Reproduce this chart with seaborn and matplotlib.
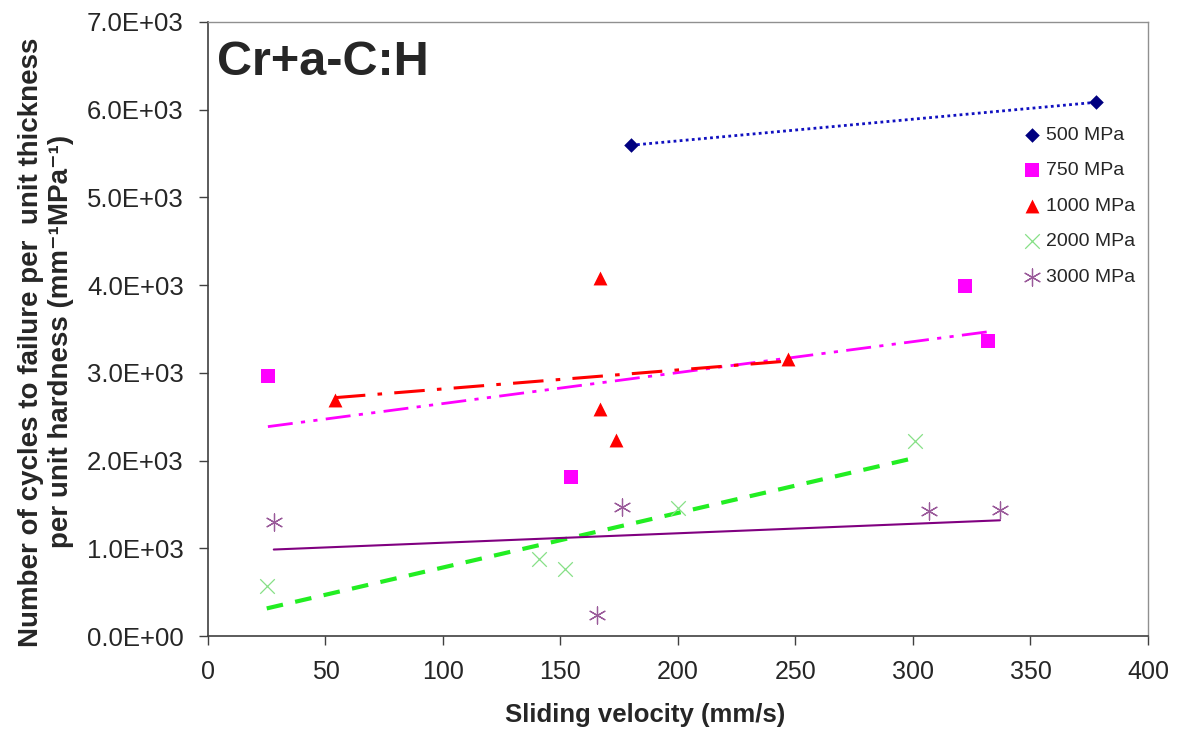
import matplotlib
matplotlib.use('Agg')
import matplotlib.pyplot as plt
import seaborn as sns
import numpy as np

# sliding velocity (mm/s) and cycles to failure per unit thickness per unit hardness
v_500 = [180, 378]
n_500 = [5595, 6085]
v_750 = [25.5, 154.5, 322, 332]
n_750 = [2965, 1813, 3990, 3364]
v_1000 = [54, 167, 167, 173.6, 247]
n_1000 = [2690, 4082, 2588, 2235, 3158]
v_2000 = [25, 141, 152, 200, 301]
n_2000 = [570, 878, 764, 1460, 2220]
v_3000 = [28, 165.5, 176, 307, 337]
n_3000 = [1300, 240, 1470, 1425, 1437]

labels = ['500 MPa', '750 MPa', '1000 MPa', '2000 MPa', '3000 MPa']
xticks = [0, 50, 100, 150, 200, 250, 300, 350, 400]
yticks = [0, 1000, 2000, 3000, 4000, 5000, 6000, 7000]

sns.set_style('white')
plt.rcParams['font.family'] = ['Liberation Sans', 'DejaVu Sans']

fig = plt.figure(figsize=(11.79, 7.33), dpi=100)
ax = fig.add_axes([0.1764, 0.1323, 0.7973, 0.8377])

# markers and trend line style for every series
series = [
    (v_500, n_500, 'D', '#000080', '#1010c0', 55, (0, (1, 1.2)), 2.0),
    (v_750, n_750, 's', '#ff00ff', '#ff00ff', 90, (0, (9, 3, 1.5, 3, 1.5, 3)), 2.0),
    (v_1000, n_1000, '^', '#ff0000', '#ff0000', 100, (0, (10, 4, 1.5, 4)), 2.2),
    (v_2000, n_2000, 'x', '#86e086', '#22ee22', 110, (0, (4, 3)), 3.0),
    (v_3000, n_3000, (6, 2, 0), '#9a5a9a', '#800080', 150, '-', 1.5),
]

for (vx, ny, mk, mcol, lcol, size, ls, lw), lab in zip(series, labels):
    # linear trend line (least squares) over the data range
    sns.regplot(x=np.array(vx), y=np.array(ny), ax=ax, scatter=False, ci=None,
                truncate=True, color=lcol, line_kws={'linestyle': ls, 'linewidth': lw})
    if mk in ('x', (6, 2, 0)):
        sns.scatterplot(x=vx, y=ny, ax=ax, marker=mk, color=mcol, s=size,
                        linewidth=0.9, label=lab, zorder=3)
    else:
        sns.scatterplot(x=vx, y=ny, ax=ax, marker=mk, color=mcol, s=size,
                        edgecolor=mcol, linewidth=0, label=lab, zorder=3)

ax.set_xlim(0, 400)
ax.set_ylim(0, 7000)
ax.set_xticks(xticks)
ax.set_yticks(yticks)
ax.set_yticklabels(['{:.1E}'.format(t) for t in yticks])
ax.tick_params(axis='both', direction='out', length=6.5, width=1, color='#404040',
               pad=11, left=True, bottom=True)
ax.tick_params(axis='y', labelsize=18.5)
ax.tick_params(axis='x', labelsize=18)

for side in ['left', 'bottom']:
    ax.spines[side].set_color('#404040')
    ax.spines[side].set_linewidth(1.2)
for side in ['top', 'right']:
    ax.spines[side].set_color('#909090')
    ax.spines[side].set_linewidth(1)

ax.set_xlabel('Sliding velocity (mm/s)', fontsize=18.5, fontweight='bold')
ax.xaxis.set_label_coords(0.465, -0.109)
ax.set_ylabel('Number of cycles to failure per  unit thickness\nper unit hardness (mm\u207b\u00b9MPa\u207b\u00b9)',
              fontsize=20, fontweight='bold', linespacing=1.2)
ax.yaxis.set_label_coords(-0.143, 0.479)

ax.text(0.01, 0.97, 'Cr+a-C:H', transform=ax.transAxes, fontsize=35,
        fontweight='bold', va='top', ha='left')

leg = ax.legend(loc='upper left', bbox_to_anchor=(0.866, 0.8305), frameon=False,
                fontsize=14, handlelength=1.0, handletextpad=0.25,
                labelspacing=0.92, borderaxespad=0, borderpad=0)

fig.savefig('out.png', dpi=100)
